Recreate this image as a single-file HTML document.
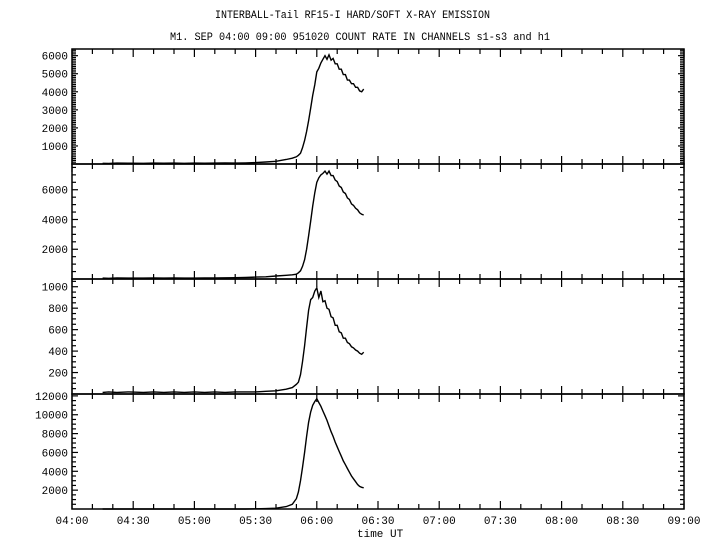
<!DOCTYPE html>
<html><head><meta charset="utf-8"><style>
html,body{margin:0;padding:0;background:#fff;}
svg{display:block;font-family:"Liberation Mono",monospace;font-size:11px;}
</style></head><body>
<svg id="chart" width="720" height="550" xmlns="http://www.w3.org/2000/svg">
<text x="215" y="18" textLength="275" lengthAdjust="spacingAndGlyphs">INTERBALL-Tail RF15-I HARD/SOFT X-RAY EMISSION</text>
<text x="170" y="40" textLength="380" lengthAdjust="spacingAndGlyphs">M1. SEP 04:00 09:00 951020  COUNT RATE IN CHANNELS s1-s3 and h1</text>
<text x="357" y="537">time UT</text>
</svg>
<script>
const xTickLabels=["04:00","04:30","05:00","05:30","06:00","06:30","07:00","07:30","08:00","08:30","09:00"];
const baseTimes=[15,18,22,28,35,40,45,50,55,60,65,70,75,80,85,90,95,100,105,108];
const flareTimes=[110,111,112,113,114,115,116,117,118,119,120,121,122,123,124,125,126,127,128,129,130,131,132,133,134,135,136,137,138,139,140,141,142,143];
const s1Base=[40,30,50,45,40,50,45,50,40,50,45,50,55,50,60,80,110,150,250,320];
const s1Flare=[400,480,600,900,1300,1800,2400,3100,3800,4400,5100,5300,5600,5800,6000,5800,6050,5750,5850,5550,5550,5250,5250,4950,4950,4650,4650,4450,4450,4250,4250,4050,4000,4150];
const s2Base=[60,50,70,60,60,70,60,70,60,60,70,70,80,90,100,130,150,200,250,280];
const s2Flare=[320,420,550,850,1300,2000,2900,3900,4900,5800,6500,6800,7000,7100,7250,7050,7250,6950,6950,6650,6550,6250,6150,5850,5750,5450,5350,5050,4950,4750,4650,4450,4350,4300];
const s3Base=[15,20,15,20,15,20,15,20,15,20,15,20,15,20,20,20,25,30,45,60];
const s3Flare=[90,110,180,300,450,620,780,880,900,960,990,900,960,860,870,800,790,720,710,640,640,580,570,520,520,480,470,440,430,410,400,380,370,390];
const h1Base=[0,0,0,0,0,0,0,0,0,0,0,0,0,0,0,20,40,80,250,500];
const h1Flare=[1100,1800,3000,4400,6000,7700,9200,10300,11000,11400,11700,11300,10900,10400,9900,9400,8800,8200,7700,7100,6600,6100,5600,5100,4700,4300,3900,3500,3200,2900,2600,2400,2300,2250];
const yTicks1=[1000,2000,3000,4000,5000,6000];
const yTicks2=[2000,4000,6000];
const yTicks3=[200,400,600,800,1000];
const yTicks4=[2000,4000,6000,8000,10000,12000];

const NS="http://www.w3.org/2000/svg";
const svg=document.getElementById('chart');
const X0=72,X1=684;
function xScale(t){return X0+t*(X1-X0)/300;}
const panels=[
 {top:49,bot:164,max:6370,minor:100,ticks:yTicks1,base:s1Base,flare:s1Flare,name:'s1'},
 {top:164,bot:279,max:7730,minor:500,ticks:yTicks2,base:s2Base,flare:s2Flare,name:'s2'},
 {top:279,bot:394,max:1072,minor:50,ticks:yTicks3,base:s3Base,flare:s3Flare,name:'s3'},
 {top:394,bot:509,max:12200,minor:500,ticks:yTicks4,base:h1Base,flare:h1Flare,name:'h1'}
];
function el(tag,attrs){const e=document.createElementNS(NS,tag);for(const k in attrs)e.setAttribute(k,attrs[k]);svg.appendChild(e);return e;}
panels.forEach((p,pi)=>{
 const yScale=v=>p.bot-v*(p.bot-p.top)/p.max;
 const r=el('rect',{x:X0,y:p.top,width:X1-X0,height:p.bot-p.top,fill:'none',stroke:'#000','stroke-width':1.5});
 
 
 // y minor + major ticks
 for(let v=p.minor;v<=p.max;v+=p.minor){
  const y=yScale(v);
  const major=p.ticks.includes(v);
  const len=major?6:4;
  el('line',{x1:X0,x2:X0+len,y1:y,y2:y,stroke:'#000','stroke-width':1.2});
  el('line',{x1:X1,x2:X1-len,y1:y,y2:y,stroke:'#000','stroke-width':1.2});
 }
 p.ticks.forEach(v=>{
  const t=el('text',{x:68,y:yScale(v)+4,'text-anchor':'end'});
  t.textContent=v;
  
  
 });
 // x ticks
 for(let m=0;m<=300;m+=10){
  const x=xScale(m);const major=m%30===0;
  if(pi===0){el('line',{x1:x,x2:x,y1:p.top,y2:p.top+(major?8:5),stroke:'#000','stroke-width':1.2});}
  const len=major?8:5;
  if(pi<3){el('line',{x1:x,x2:x,y1:p.bot-len,y2:p.bot+len,stroke:'#000','stroke-width':1.2});}
  else{el('line',{x1:x,x2:x,y1:p.bot-len,y2:p.bot,stroke:'#000','stroke-width':1.2});}
 }
 const times=baseTimes.concat(flareTimes);
 const vals=p.base.concat(p.flare);
 const d=times.map((t,i)=>(i?'L':'M')+xScale(t).toFixed(1)+','+yScale(vals[i]).toFixed(1)).join('');
 const path=el('path',{d:d,fill:'none',stroke:'#000','stroke-width':1.4});
 
 
});
xTickLabels.forEach((lab,i)=>{
 const t=el('text',{x:xScale(i*30),y:524,'text-anchor':'middle'});
 t.textContent=lab;
 
 
});
</script>
</body></html>
